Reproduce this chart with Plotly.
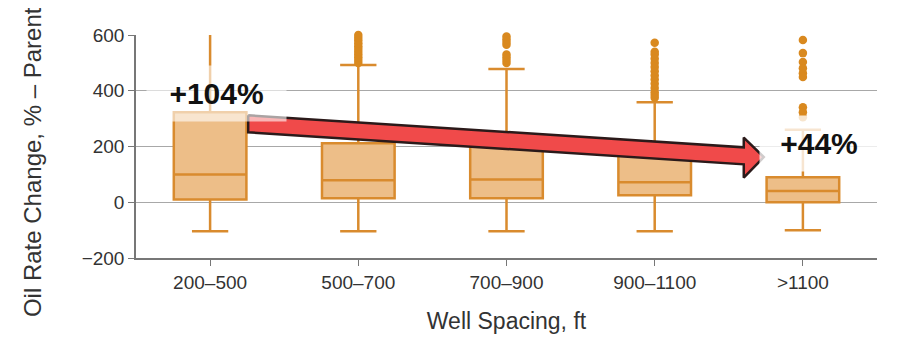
import plotly.graph_objects as go

# ---- data ----
categories = ["200–500", "500–700", "700–900", "900–1100", ">1100"]
q1_vals = [10, 14, 14, 25, 0]
median_vals = [100, 79, 82, 72, 40]
q3_vals = [323, 212, 205, 169, 90]
lower_fence = [-104, -104, -104, -104, -100]
upper_fence = [615, 492, 478, 359, 260]
outliers = [
    [],
    [500, 510, 520, 530, 540, 550, 560, 570, 580, 590, 600],
    [500, 510, 520, 530, 565, 575, 585, 595],
    [572, 540, 530, 515, 500, 485, 470, 455, 440, 425, 410, 395, 385, 375],
    [582, 535, 503, 481, 463, 449, 341, 323, 305],
]
y_ticks = [-200, 0, 200, 400, 600]
labels = ["+104%", "+44%"]
x_title = "Well Spacing, ft"
y_title = "Oil Rate Change, % – Parent"

# decorative arrow outline (category index, value)
arrow_x = [0.257, 3.601, 3.601, 3.736, 3.601, 3.601, 0.257, 0.257]
arrow_y = [312, 197, 232, 162, 88, 136, 251, 312]

idx = list(range(len(categories)))
BOX_LINE = "#D98B2E"
BOX_FILL = "#EDBE88"
FONT = "Arial, Liberation Sans, sans-serif"

fig = go.Figure()
fig.add_trace(go.Box(
    x=idx, q1=q1_vals, median=median_vals, q3=q3_vals,
    lowerfence=lower_fence, upperfence=upper_fence,
    width=0.49, whiskerwidth=0.5,
    fillcolor=BOX_FILL, line=dict(color=BOX_LINE, width=2.5),
    boxpoints=False, hoverinfo="skip", showlegend=False,
))

ox, oy = [], []
for i, pts in enumerate(outliers):
    for v in pts:
        ox.append(i)
        oy.append(v)
fig.add_trace(go.Scatter(
    x=ox, y=oy, mode="markers",
    marker=dict(color="#D9891F", size=8.5),
    cliponaxis=False, hoverinfo="skip", showlegend=False,
))

fig.add_trace(go.Scatter(
    x=arrow_x, y=arrow_y, mode="lines", fill="toself",
    fillcolor="#F04A4A", line=dict(color="#2B1A1A", width=2.5),
    hoverinfo="skip", showlegend=False,
))

fig.add_annotation(x=0.04, y=391, xref="x", yref="y", text="<b>%s</b>" % labels[0],
                   showarrow=False, font=dict(family=FONT, size=30, color="#111"),
                   bgcolor="rgba(255,255,255,0.6)", width=137, height=53)
fig.add_annotation(x=4.11, y=212, xref="x", yref="y", text="<b>%s</b>" % labels[1],
                   showarrow=False, font=dict(family=FONT, size=30, color="#111"),
                   bgcolor="rgba(255,255,255,0.78)", width=116, height=53)
# y-axis title (placed to match the reference's off-centre position)
fig.add_annotation(x=-0.1404, y=0.43, xref="paper", yref="paper", text=y_title,
                   textangle=-90, showarrow=False, xanchor="center", yanchor="middle",
                   font=dict(family=FONT, size=24, color="#333"))

fig.update_layout(
    width=891, height=332,
    margin=dict(l=128, r=22, t=27, b=82),
    paper_bgcolor="white", plot_bgcolor="white",
    font=dict(family=FONT, color="#333"),
)
fig.update_xaxes(
    range=[-0.5, 4.5], tickvals=idx, ticktext=categories,
    showline=True, linecolor="#777", linewidth=1.5,
    ticks="outside", ticklen=6, tickcolor="#777",
    showgrid=False, zeroline=False, automargin=False,
    tickfont=dict(size=19, color="#333"),
    title=dict(text=x_title, font=dict(size=23, color="#333"), standoff=21),
)
fig.update_yaxes(
    range=[-200, 600], tickvals=y_ticks,
    showline=True, linecolor="#777", linewidth=1.5,
    ticks="outside", ticklen=6, tickcolor="#777",
    showgrid=True, gridcolor="#A8A8A8", gridwidth=1.2, zeroline=False, automargin=False,
    tickfont=dict(size=19, color="#333"),
)

fig.write_html("out.html")
